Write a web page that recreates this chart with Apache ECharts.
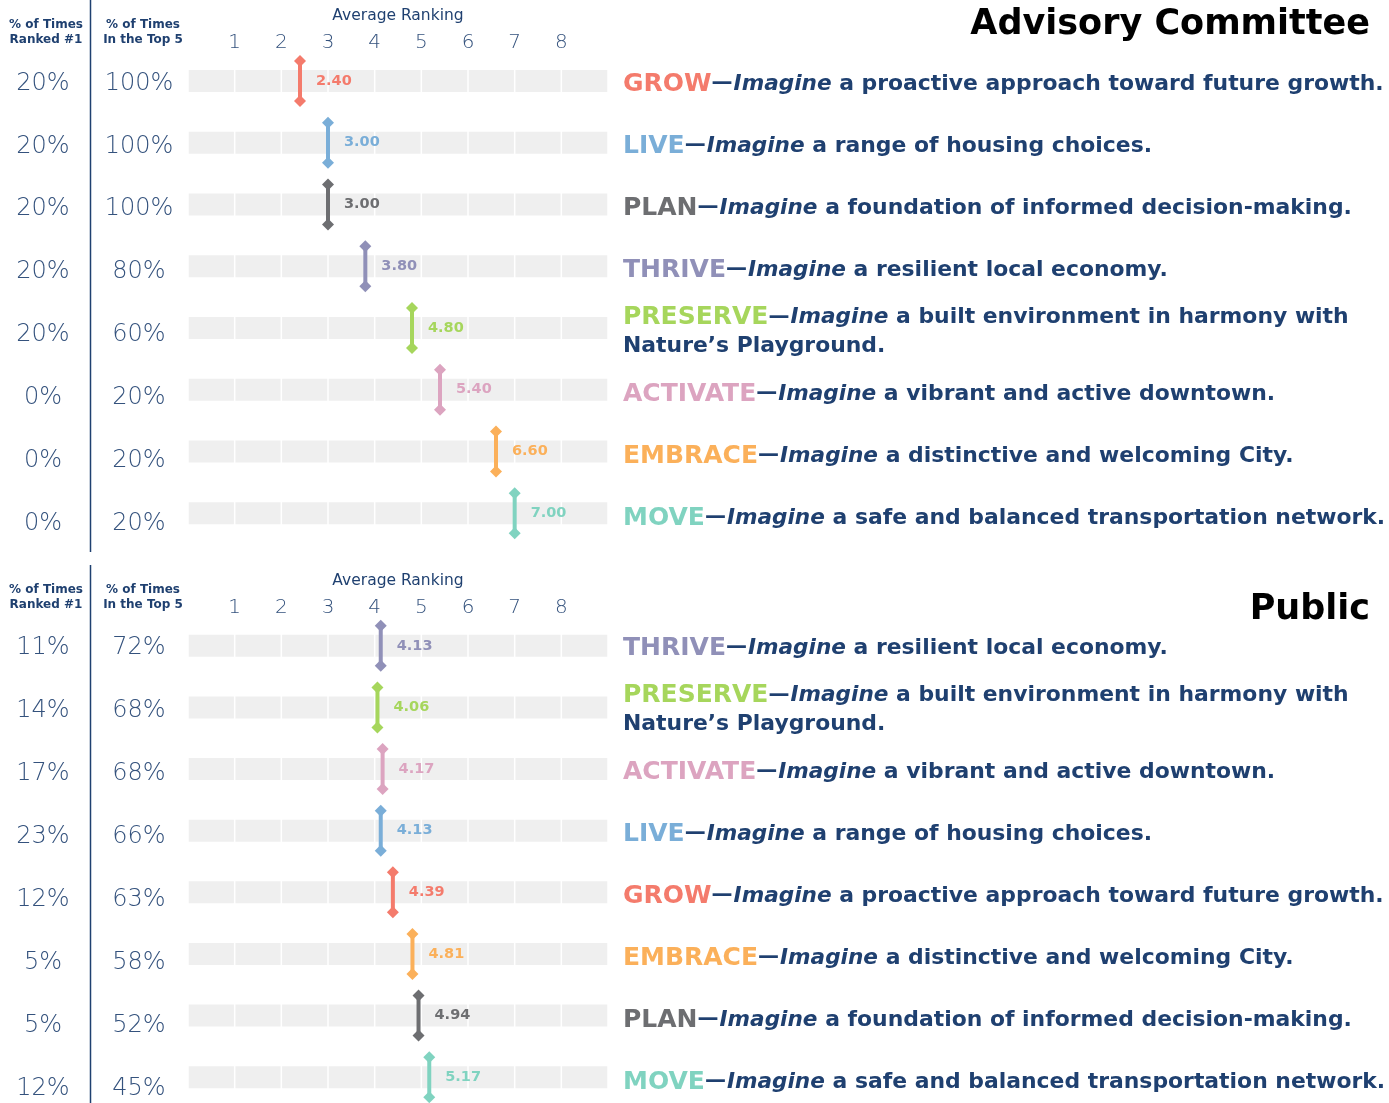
<!DOCTYPE html>
<html><head><meta charset="utf-8">
<script src="https://cdn.jsdelivr.net/npm/echarts@6/dist/echarts.min.js"></script>
<style>html,body{margin:0;padding:0;background:#fff}#c{width:1389px;height:1103px}</style>
</head><body><div id="c"></div>
<script>
// ---------- data ----------
const tickLabels = ['1','2','3','4','5','6','7','8'];
const axisTitle = 'Average Ranking';
const colHeader1 = '% of Times\nRanked #1';
const colHeader2 = '% of Times\nIn the Top 5';

const advTitle = 'Advisory Committee';
const advNames = ['GROW','LIVE','PLAN','THRIVE','PRESERVE','ACTIVATE','EMBRACE','MOVE'];
const advRanking = [2.40, 3.00, 3.00, 3.80, 4.80, 5.40, 6.60, 7.00];
const advRanked1 = ['20%','20%','20%','20%','20%','0%','0%','0%'];
const advTop5 = ['100%','100%','100%','80%','60%','20%','20%','20%'];

const pubTitle = 'Public';
const pubNames = ['THRIVE','PRESERVE','ACTIVATE','LIVE','GROW','EMBRACE','PLAN','MOVE'];
const pubRanking = [4.13, 4.06, 4.17, 4.13, 4.39, 4.81, 4.94, 5.17];
const pubRanked1 = ['11%','14%','17%','23%','12%','5%','5%','12%'];
const pubTop5 = ['72%','68%','68%','66%','63%','58%','52%','45%'];

const visions = {
  GROW: 'a proactive approach toward future growth.',
  LIVE: 'a range of housing choices.',
  PLAN: 'a foundation of informed decision-making.',
  THRIVE: 'a resilient local economy.',
  PRESERVE: 'a built environment in harmony with\nNature’s Playground.',
  ACTIVATE: 'a vibrant and active downtown.',
  EMBRACE: 'a distinctive and welcoming City.',
  MOVE: 'a safe and balanced transportation network.'
};

// ---------- styles ----------
const themeColors = {
  GROW:'#f47b6c', LIVE:'#7aaed8', PLAN:'#6d6e71', THRIVE:'#9090b8',
  PRESERVE:'#a6d65c', ACTIVATE:'#dca4c0', EMBRACE:'#fbb05a', MOVE:'#80d3c0'
};
const NAVY = '#1f4070';
const TXT = '#34527d';
const FONT = '"DejaVu Sans", sans-serif';

const rich = {
  d:{color:NAVY, fontFamily:FONT, fontSize:21, fontWeight:'bold', lineHeight:29, padding:[0,1,0,0]},
  i:{color:NAVY, fontFamily:FONT, fontSize:21.6, fontWeight:'bold', fontStyle:'italic', lineHeight:29},
  r:{color:NAVY, fontFamily:FONT, fontSize:21.9, fontWeight:'bold', lineHeight:29}
};
Object.keys(themeColors).forEach(k => {
  rich[k] = {color:themeColors[k], fontFamily:FONT, fontSize:25, fontWeight:900, lineHeight:29};
});

const chart = echarts.init(document.getElementById('c'), null, {renderer:'canvas'});

const sections = [
  {names:advNames, ranking:advRanking, r1:advRanked1, t5:advTop5,
   top:50, height:494, pctTop:52, pctH:503, descTop:53, descH:496},
  {names:pubNames, ranking:pubRanking, r1:pubRanked1, t5:pubTop5,
   top:615, height:493, pctTop:616, pctH:504, descTop:617, descH:496}
];

const grid = [], xAxis = [], yAxis = [], series = [];
const mkGrid = (o) => Object.assign({containLabel:false, outerBoundsMode:'none'}, o);

sections.forEach((s, si) => {
  // ---- main grid (ranking scale) ----
  const g = grid.length;
  grid.push(mkGrid({left:188, width:420, top:s.top, height:s.height}));
  xAxis.push({
    type:'value', gridIndex:g, min:0, max:9, interval:1, position:'top',
    name:axisTitle, nameLocation:'middle', nameGap:34,
    nameTextStyle:{color:NAVY, fontFamily:FONT, fontSize:15.5, verticalAlign:'middle'},
    axisLine:{show:false}, axisTick:{show:false}, splitLine:{show:false},
    axisLabel:{
      formatter: v => (v >= 1 && v <= 8) ? tickLabels[v - 1] : '',
      color:TXT, fontFamily:FONT, fontSize:20, fontWeight:300, margin:7, verticalAlign:'middle'
    }
  });
  const yL = yAxis.length;
  yAxis.push({type:'category', gridIndex:g, data:s.names, inverse:true, show:false});
  // background cells
  series.push({
    type:'custom', xAxisIndex:g, yAxisIndex:yL, silent:true, z:1,
    data:s.names.map((n, i) => [0, i]),
    renderItem:(params, api) => {
      const i = api.value(1);
      const children = [];
      for (let k = 0; k < 9; k++) {
        const a = api.coord([k, i]), b = api.coord([k + 1, i]);
        children.push({type:'rect', shape:{x:a[0] + 0.75, y:a[1] - 11, width:b[0] - a[0] - 1.5, height:22},
          style:{fill:'#efefef'}});
      }
      return {type:'group', children};
    }
  });
  // markers
  series.push({
    type:'custom', xAxisIndex:g, yAxisIndex:yL, z:5,
    data:s.ranking.map((v, i) => [v, i]),
    renderItem:(params, api) => {
      const v = api.value(0), i = api.value(1);
      const p = api.coord([v, i]);
      const c = themeColors[s.names[params.dataIndex]];
      const dia = (cy) => ({type:'polygon', shape:{points:[[p[0], cy - 6], [p[0] + 6, cy], [p[0], cy + 6], [p[0] - 6, cy]]}, style:{fill:c}});
      return {type:'group', children:[
        {type:'line', shape:{x1:p[0], y1:p[1] - 20, x2:p[0], y2:p[1] + 20}, style:{stroke:c, lineWidth:4}},
        dia(p[1] - 20), dia(p[1] + 20),
        {type:'text', style:{text:v.toFixed(2), x:p[0] + 16, y:p[1], fill:c, fontFamily:FONT,
          fontSize:14.5, fontWeight:'bold', align:'left', verticalAlign:'middle'}}
      ]};
    }
  });

  // ---- percentage columns ----
  const pg = grid.length;
  grid.push(mkGrid({left:90, width:1, top:s.pctTop, height:s.pctH}));
  xAxis.push({type:'value', gridIndex:pg, show:false});
  yAxis.push({
    type:'category', gridIndex:pg, data:s.names, inverse:true, position:'left',
    axisLine:{show:false}, axisTick:{show:false},
    axisLabel:{margin:47, align:'center', color:TXT, fontFamily:FONT, fontSize:24, fontWeight:300,
      formatter:(val, idx) => s.r1[idx]}
  });
  yAxis.push({
    type:'category', gridIndex:pg, data:s.names, inverse:true, position:'right',
    axisLine:{show:false}, axisTick:{show:false},
    axisLabel:{margin:48, align:'center', color:TXT, fontFamily:FONT, fontSize:24, fontWeight:300,
      formatter:(val, idx) => s.t5[idx]}
  });

  // ---- descriptions ----
  const dg = grid.length;
  grid.push(mkGrid({left:606, width:1, top:s.descTop, height:s.descH}));
  xAxis.push({type:'value', gridIndex:dg, show:false});
  yAxis.push({
    type:'category', gridIndex:dg, data:s.names, inverse:true, position:'right',
    axisLine:{show:false}, axisTick:{show:false},
    axisLabel:{
      margin:16, align:'left', rich:rich,
      formatter:(val) => `{${val}|${val}}{d|—}{i|Imagine}{r| ${visions[val]}}`
    }
  });
});

const hdrStyle = {fill:NAVY, fontFamily:FONT, fontSize:12, fontWeight:'bold', align:'center', verticalAlign:'middle', lineHeight:15};
const graphic = [
  {type:'line', shape:{x1:90.5, y1:0, x2:90.5, y2:552}, style:{stroke:NAVY, lineWidth:1.5}},
  {type:'line', shape:{x1:90.5, y1:565, x2:90.5, y2:1103}, style:{stroke:NAVY, lineWidth:1.5}},
  {type:'text', x:46, y:32, style:Object.assign({text:colHeader1}, hdrStyle)},
  {type:'text', x:143, y:32, style:Object.assign({text:colHeader2}, hdrStyle)},
  {type:'text', x:46, y:597, style:Object.assign({text:colHeader1}, hdrStyle)},
  {type:'text', x:143, y:597, style:Object.assign({text:colHeader2}, hdrStyle)},
  {type:'text', x:1370, y:25, style:{text:advTitle, fill:'#000', fontFamily:FONT, fontSize:35, fontWeight:'bold', align:'right', verticalAlign:'middle'}},
  {type:'text', x:1370, y:610, style:{text:pubTitle, fill:'#000', fontFamily:FONT, fontSize:35, fontWeight:'bold', align:'right', verticalAlign:'middle'}}
];

chart.setOption({backgroundColor:'#fff', animation:false, grid, xAxis, yAxis, series, graphic});
</script></body></html>
